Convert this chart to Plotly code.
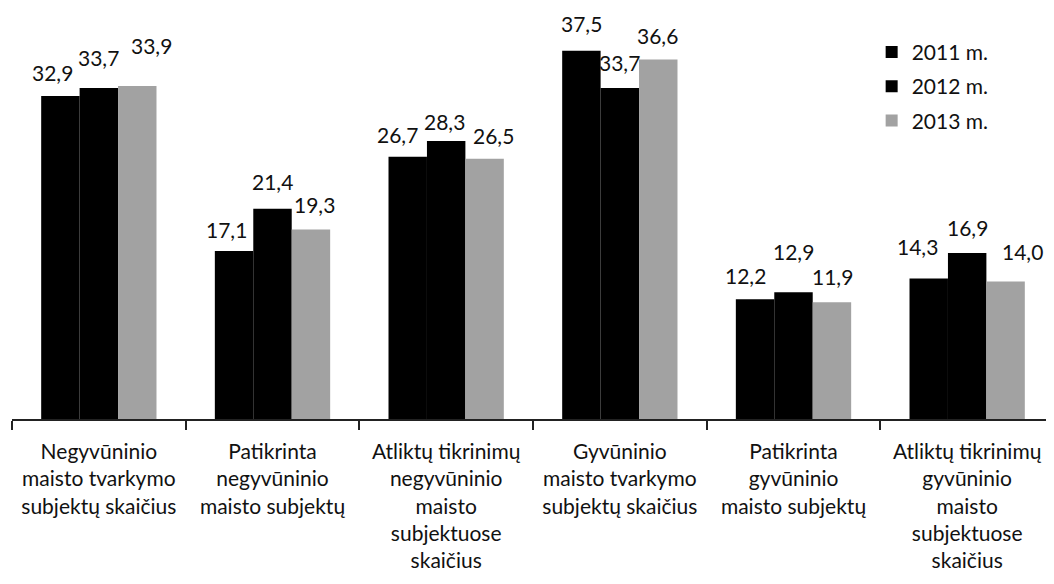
import plotly.graph_objects as go

categories = [
    "Negyvūninio<br>maisto tvarkymo<br>subjektų skaičius",
    "Patikrinta<br>negyvūninio<br>maisto subjektų",
    "Atliktų tikrinimų<br>negyvūninio<br>maisto<br>subjektuose<br>skaičius",
    "Gyvūninio<br>maisto tvarkymo<br>subjektų skaičius",
    "Patikrinta<br>gyvūninio<br>maisto subjektų",
    "Atliktų tikrinimų<br>gyvūninio<br>maisto<br>subjektuose<br>skaičius",
]
series_names = ["2011 m.", "2012 m.", "2013 m."]
values_2011 = [32.9, 17.1, 26.7, 37.5, 12.2, 14.3]
values_2012 = [33.7, 21.4, 28.3, 33.7, 12.9, 16.9]
values_2013 = [33.9, 19.3, 26.5, 36.6, 11.9, 14.0]

# style: colours and label offsets (px) relative to group centre / bar top
colors = ["#000000", "#000000", "#a2a2a2"]
label_dx = [
    [-46, 0, 53],
    [-46, 0, 42],
    [-49, -2, 47],
    [-38, 0, 38],
    [-48, 0, 39],
    [-50, 0, 55],
]
label_dy = [
    [23, 31, 41],
    [22, 27, 25],
    [22, 20, 23],
    [27, 26, 24],
    [24, 41, 26],
    [32, 26, 30],
]

FONT = "Lato"
all_values = [values_2011, values_2012, values_2013]

fig = go.Figure()
for i, (name, vals) in enumerate(zip(series_names, all_values)):
    fig.add_trace(go.Bar(
        x=categories, y=vals, name=name,
        marker=dict(color=colors[i], line=dict(width=0)),
        legendgroup=name,
        hoverinfo="skip",
    ))

annotations = []
for ci, cat in enumerate(categories):
    for si, vals in enumerate(all_values):
        annotations.append(dict(
            x=cat, y=vals[ci], xref="x", yref="y",
            text=f"{vals[ci]:.1f}".replace(".", ","),
            showarrow=False, xanchor="center", yanchor="middle",
            xshift=label_dx[ci][si], yshift=label_dy[ci][si],
            font=dict(family=FONT, size=21, color="#111111"),
        ))

fig.update_layout(
    width=1046, height=576,
    margin=dict(l=4, r=0, t=0, b=165),
    paper_bgcolor="white", plot_bgcolor="white",
    barmode="group", bargap=0.336, bargroupgap=0,
    font=dict(family=FONT, size=21, color="#111111"),
    showlegend=True,
    legend=dict(
        x=0.825, y=0.942, xanchor="left", yanchor="top",
        font=dict(family=FONT, size=21, color="#111111"),
        tracegroupgap=4, bgcolor="rgba(0,0,0,0)",
    ),
    annotations=annotations,
    xaxis=dict(
        showline=True, linecolor="#222222", linewidth=1.5,
        ticks="outside", ticklen=9, tickcolor="#222222", tickwidth=1.5,
        tickson="boundaries", showgrid=False, zeroline=False,
        tickfont=dict(family=FONT, size=21, color="#111111"),
        ticklabelstandoff=13,
    ),
    yaxis=dict(
        range=[0, 41.85], visible=False, showgrid=False, zeroline=False,
    ),
)

fig.write_html("out.html")
